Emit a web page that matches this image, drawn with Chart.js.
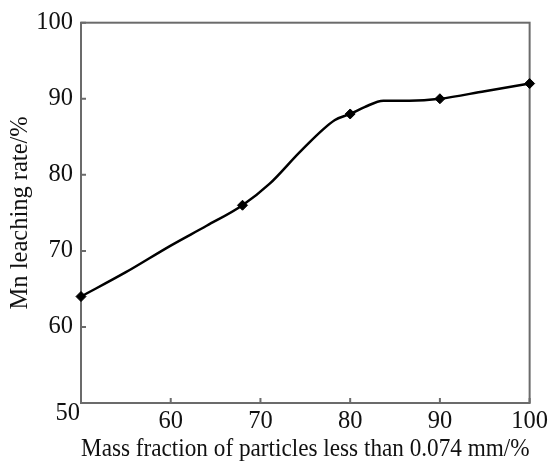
<!DOCTYPE html>
<html>
<head>
<meta charset="utf-8">
<script src="https://cdn.jsdelivr.net/npm/chart.js@4"></script>
<style>
  html, body { margin: 0; padding: 0; background: #fff; }
  #wrap { width: 552px; height: 464px; }
</style>
</head>
<body>
<div id="wrap"><canvas id="c"></canvas></div>
<script>
// measured points (diamond markers)
const pointX = [50, 68, 80, 90, 100];
const pointY = [64, 76, 88, 90, 92];
// curve (the line between markers)
const curveX = [50, 55, 60, 64, 68, 71, 74.6, 78.3, 80, 81.6, 83.7, 86.6, 90, 95, 100];
const curveY = [64, 67.2, 70.7, 73.3, 76, 78.8, 83.25, 87.2, 88, 88.9, 89.75, 89.75, 90, 91, 92];
const xTicks = [50, 60, 70, 80, 90, 100];
const yTicks = [50, 60, 70, 80, 90, 100];

const FONT = "Liberation Serif";
const FS = 24.5;
const TEXT = "#111";
const AXIS = "#6b6b6b";

const frame = {
  id: "frame",
  beforeDatasetsDraw(chart) {
    const { ctx, chartArea: a, scales } = chart;
    ctx.save();
    ctx.strokeStyle = AXIS;
    ctx.lineWidth = 2;
    ctx.strokeRect(a.left, a.top, a.right - a.left, a.bottom - a.top);
    // inward ticks
    ctx.beginPath();
    xTicks.forEach((v) => {
      const px = scales.x.getPixelForValue(v);
      ctx.moveTo(px, a.bottom);
      ctx.lineTo(px, a.bottom - 5);
    });
    yTicks.forEach((v) => {
      const py = scales.y.getPixelForValue(v);
      ctx.moveTo(a.left, py);
      ctx.lineTo(a.left + 5, py);
    });
    ctx.stroke();
    // shared origin label
    ctx.fillStyle = TEXT;
    ctx.font = FS + "px '" + FONT + "'";
    ctx.textAlign = "right";
    ctx.textBaseline = "middle";
    ctx.fillText("50", a.left - 1, a.bottom + 11);
    ctx.restore();
  },
};

new Chart(document.getElementById("c"), {
  type: "scatter",
  data: {
    datasets: [
      {
        data: curveX.map((x, i) => ({ x, y: curveY[i] })),
        showLine: true,
        borderColor: "#000",
        borderWidth: 2.5,
        pointRadius: 0,
        cubicInterpolationMode: "monotone",
      },
      {
        data: pointX.map((x, i) => ({ x, y: pointY[i] })),
        pointStyle: "rectRot",
        pointRadius: 5,
        backgroundColor: "#000",
        borderColor: "#000",
        borderWidth: 1,
        clip: false,
      },
    ],
  },
  options: {
    responsive: true,
    maintainAspectRatio: false,
    animation: false,
    layout: { padding: { top: 20, right: 13, bottom: 0, left: 0 } },
    plugins: { legend: { display: false }, tooltip: { enabled: false } },
    scales: {
      x: {
        type: "linear",
        min: 50,
        max: 100,
        afterBuildTicks: (s) => { s.ticks = xTicks.map((v) => ({ value: v })); },
        afterFit: (s) => { s.height = 61; },
        grid: { display: false, drawTicks: false },
        border: { display: false },
        ticks: {
          color: TEXT,
          padding: 4,
          maxRotation: 0,
          font: { family: FONT, size: FS },
          callback: (v) => (v === 50 ? "" : v),
        },
        title: {
          display: true,
          text: "Mass fraction of particles less than 0.074 mm/%",
          color: TEXT,
          font: { family: FONT, size: FS },
          padding: { top: 0, bottom: 0 },
        },
      },
      y: {
        min: 50,
        max: 100,
        afterBuildTicks: (s) => { s.ticks = yTicks.map((v) => ({ value: v })); },
        afterFit: (s) => { s.width = 81; },
        grid: { display: false, drawTicks: false },
        border: { display: false },
        ticks: {
          color: TEXT,
          padding: 8,
          font: { family: FONT, size: FS },
          callback: (v) => (v === 50 ? "" : v),
        },
        title: {
          display: true,
          text: "Mn leaching rate/%",
          color: TEXT,
          font: { family: FONT, size: FS },
          padding: { top: 6, bottom: 0 },
        },
      },
    },
  },
  plugins: [frame],
});
</script>
</body>
</html>
